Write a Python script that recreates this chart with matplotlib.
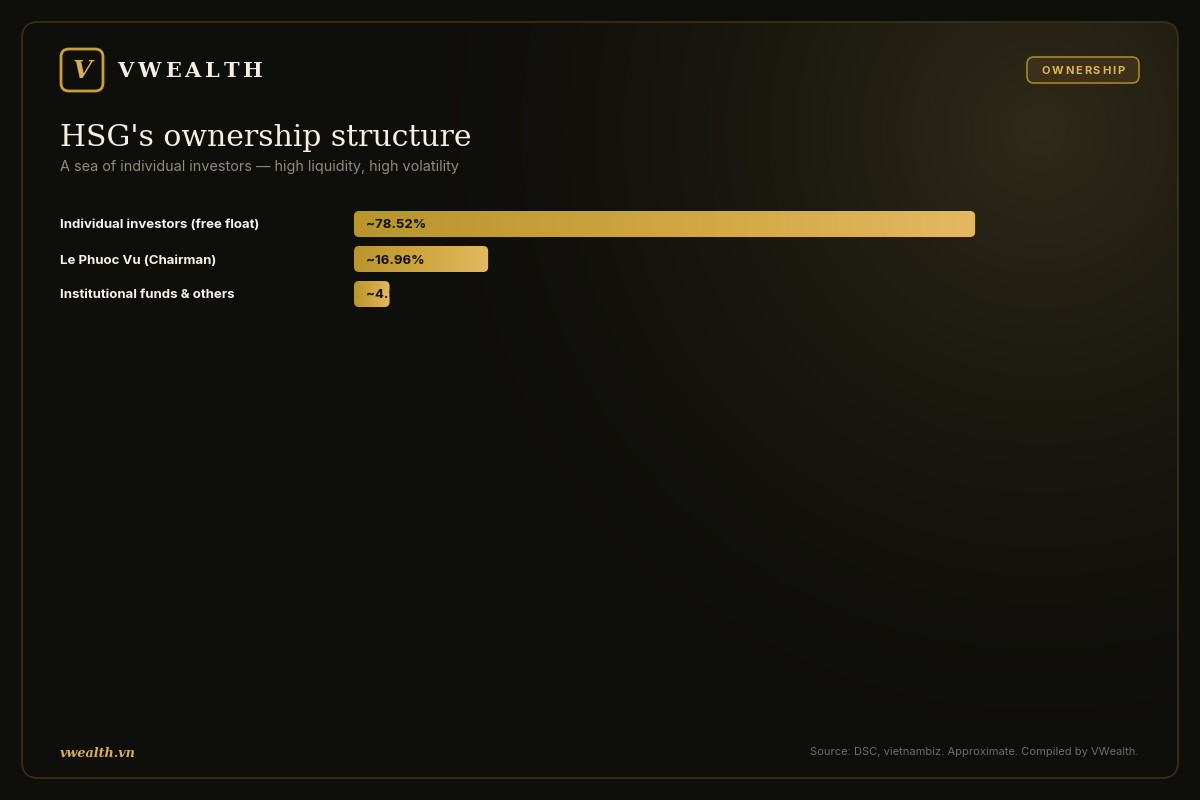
import numpy as np
import matplotlib
matplotlib.use("Agg")
import matplotlib.pyplot as plt
from matplotlib.patches import FancyBboxPatch
from matplotlib.colors import LinearSegmentedColormap
import matplotlib.transforms as mtransforms

# ---------------- data ----------------
categories = ["Individual investors (free float)", "Le Phuoc Vu (Chairman)", "Institutional funds & others"]
values = [78.52, 16.96, 4.5]
value_labels = ["~78.52%", "~16.96%", "~4.5%"]
title = "HSG's ownership structure"
subtitle = "A sea of individual investors \u2014 high liquidity, high volatility"
badge = "OWNERSHIP"
brand = "VWEALTH"
footer_left = "vwealth.vn"
footer_right = "Source: DSC, vietnambiz. Approximate. Compiled by VWealth."

W, H = 1200, 800
fig = plt.figure(figsize=(12, 8), dpi=100)
fig.patch.set_facecolor("#0e0e0b")

# ---------------- background (pixel coords) ----------------
bg = fig.add_axes([0, 0, 1, 1])
bg.set_xlim(0, W)
bg.set_ylim(H, 0)
bg.axis("off")

yy, xx = np.mgrid[0:H, 0:W]
d = np.sqrt((xx - 1040) ** 2 + (yy - 130) ** 2)
g = np.clip(1 - d / 700, 0, 1) ** 1.9
base = np.array([14, 14, 11]) / 255.0
glow = np.array([48, 42, 24]) / 255.0
img = base[None, None, :] + (glow - base)[None, None, :] * g[:, :, None]
im = bg.imshow(img, extent=(0, W, H, 0), zorder=0, interpolation="bilinear")

card = FancyBboxPatch((22, 22), 1156, 756, boxstyle="round,pad=0,rounding_size=16",
                      facecolor="none", edgecolor="#3a3218", linewidth=1.2, zorder=2)
bg.add_patch(card)
clip_card = FancyBboxPatch((22, 22), 1156, 756, boxstyle="round,pad=0,rounding_size=16",
                           facecolor="none", edgecolor="none", transform=bg.transData)
bg.add_patch(clip_card)
im.set_clip_path(clip_card)

# logo square
logo = FancyBboxPatch((61, 49), 42, 42, boxstyle="round,pad=0,rounding_size=8",
                      facecolor="#0f0e0a", edgecolor="#c9a13b", linewidth=2, zorder=3)
bg.add_patch(logo)
bg.text(82, 71, "V", fontfamily="DejaVu Serif", fontstyle="italic", fontweight="bold",
        fontsize=18, color="#d4b05a", ha="center", va="center", zorder=4)

# brand letters, spaced
fig.canvas.draw()
renderer = fig.canvas.get_renderer()
x = 117
for ch in brand:
    t = bg.text(x, 71, ch, fontfamily="DejaVu Serif", fontweight="bold", fontsize=15,
                color="#f2eee4", ha="left", va="center", zorder=4)
    bb = t.get_window_extent(renderer)
    x += bb.width + 4.0

# badge
bdg = FancyBboxPatch((1027, 57), 112, 26, boxstyle="round,pad=0,rounding_size=7",
                     facecolor="#3a3118", edgecolor="#a3852c", linewidth=1.2, zorder=3)
bg.add_patch(bdg)
widths = []
tmp = []
for ch in badge:
    t = bg.text(0, 0, ch, fontfamily="Inter", fontweight="bold", fontsize=8, alpha=0)
    widths.append(t.get_window_extent(renderer).width)
    tmp.append(t)
for t in tmp:
    t.remove()
sp = 1.8
total = sum(widths) + sp * (len(badge) - 1)
x = 1083 - total / 2
for ch, w in zip(badge, widths):
    bg.text(x, 70.5, ch, fontfamily="Inter", fontweight="bold", fontsize=8,
            color="#e2b552", ha="left", va="center", zorder=4)
    x += w + sp

# title & subtitle
bg.text(60, 146, title, fontfamily="DejaVu Serif", fontsize=21.5, color="#f4f0e6",
        ha="left", va="baseline", zorder=4)
bg.text(60, 171, subtitle, fontfamily="Inter", fontsize=10.4, color="#8d897e",
        ha="left", va="baseline", zorder=4)

# footer
bg.text(60, 757, footer_left, fontfamily="DejaVu Serif", fontstyle="italic", fontweight="bold",
        fontsize=9.2, color="#d3b25c", ha="left", va="baseline", zorder=4)
bg.text(1139, 755, footer_right, fontfamily="Inter", fontsize=8, color="#6f6c62",
        ha="right", va="baseline", zorder=4)

# ---------------- bar axes ----------------
ax_left, ax_right = 354, 1145
ax_top, ax_bot = 206.5, 311.5
ax = fig.add_axes([ax_left / W, 1 - ax_bot / H, (ax_right - ax_left) / W, (ax_bot - ax_top) / H])
ax.set_xlim(0, 100)
ax.set_ylim(len(categories) - 0.5, -0.5)
ax.axis("off")
ax.patch.set_alpha(0)

px_x = (ax_right - ax_left) / 100.0
px_y = (ax_bot - ax_top) / len(categories)
bar_h = 26 / px_y
r_px = 5
rx = r_px / px_x
aspect = (r_px / px_y) / rx

cmap = LinearSegmentedColormap.from_list("gold", ["#b8952d", "#cfa63f", "#e4b862"])
grad = np.linspace(0, 1, 256)[None, :]

bars = ax.barh(range(len(categories)), values, height=bar_h, color="none", edgecolor="none")
for i, (rect, v, lab) in enumerate(zip(bars, values, value_labels)):
    x0, y0 = rect.get_x(), rect.get_y()
    w, h = rect.get_width(), rect.get_height()
    clip = FancyBboxPatch((x0, y0), w, h, boxstyle=f"round,pad=0,rounding_size={rx}",
                          mutation_aspect=aspect, facecolor="none", edgecolor="none",
                          transform=ax.transData)
    ax.add_patch(clip)
    gi = ax.imshow(grad, cmap=cmap, extent=(x0, x0 + w, y0 + h, y0), aspect="auto",
                   interpolation="bilinear", zorder=2)
    gi.set_clip_path(clip)
    ax.text(x0 + 12 / px_x, i, lab, fontfamily="Inter", fontweight="bold", fontsize=9.5,
            color="#120f05", ha="left", va="center_baseline", zorder=3)

ax.set_xlim(0, 100)
ax.set_ylim(len(categories) - 0.5, -0.5)

trans = mtransforms.blended_transform_factory(fig.transFigure, ax.transData)
for i, c in enumerate(categories):
    fig.text(60 / W, i, c, transform=trans, fontfamily="Inter", fontweight="bold",
             fontsize=9.5, color="#f4f1ea", ha="left", va="center_baseline")

fig.savefig("out.png", dpi=100, facecolor=fig.get_facecolor())
